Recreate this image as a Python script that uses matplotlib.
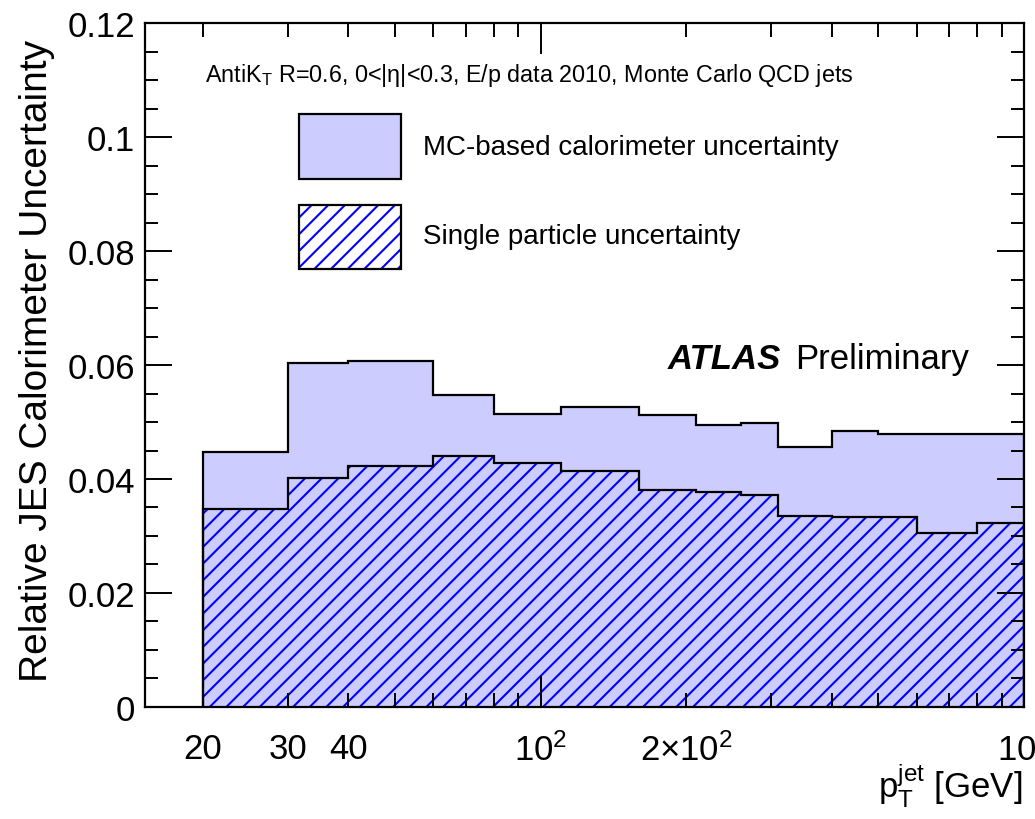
## Relative JES calorimeter uncertainty vs jet pT
## ATLAS preliminary style, ROOT look

import matplotlib
matplotlib.use('Agg')
import matplotlib.pyplot as plt
from matplotlib.patches import Rectangle
from matplotlib.ticker import FixedLocator, FixedFormatter, MultipleLocator, FuncFormatter

plt.rcParams['font.family'] = ['Liberation Sans', 'DejaVu Sans']
plt.rcParams['mathtext.fontset'] = 'custom'
plt.rcParams['mathtext.rm'] = 'Liberation Sans'
plt.rcParams['mathtext.it'] = 'Liberation Sans:italic'
plt.rcParams['mathtext.bf'] = 'Liberation Sans:bold'
plt.rcParams['hatch.linewidth'] = 1.5

###################
# data (bin edges in GeV)
pt_edges = [20, 30, 40, 60, 80, 110, 160, 210, 260, 310, 400, 500, 600, 800, 1000]
mc_calo = [0.0447, 0.0603, 0.0607, 0.0547, 0.0514, 0.0527, 0.0512, 0.0495,
           0.0498, 0.0457, 0.0485, 0.0479, 0.0479, 0.0479]
single_particle = [0.0347, 0.0402, 0.0423, 0.0440, 0.0428, 0.0414, 0.0380, 0.0378,
                   0.0372, 0.0335, 0.0333, 0.0334, 0.0305, 0.0323]

x_major = [100, 1000]
x_major_labels = [r'$10^2$', r'$10^3$']
x_minor = [20, 30, 40, 50, 60, 70, 80, 90, 200, 300, 400, 500, 600, 700, 800, 900]
x_minor_labels = ['20', '30', '40', '', '', '', '', '', r'$2{\times}10^2$', '', '', '', '', '', '', '']

label_mc = 'MC-based calorimeter uncertainty'
label_sp = 'Single particle uncertainty'

fill_col = '#ccccff'
hatch_col = '#0000ff'

###################
fig = plt.figure(figsize=(10.35, 8.2), dpi=100)
ax = fig.add_axes([0.1401, 0.1366, 0.8493, 0.8341])

# filled histograms first, outlines on top
ax.stairs(mc_calo, pt_edges, fill=True, facecolor=fill_col, edgecolor='none', baseline=0)
ax.stairs(single_particle, pt_edges, fill=True, facecolor='none', edgecolor=hatch_col,
          hatch='//', linewidth=0, baseline=0)
ax.stairs(mc_calo, pt_edges, color='black', linewidth=1.6, baseline=0)
ax.stairs(single_particle, pt_edges, color='black', linewidth=1.6, baseline=0)

ax.set_xscale('log')
ax.set_xlim(15.2, 1000)
ax.set_ylim(0, 0.12)

ax.xaxis.set_major_locator(FixedLocator(x_major))
ax.xaxis.set_major_formatter(FixedFormatter(x_major_labels))
ax.xaxis.set_minor_locator(FixedLocator(x_minor))
ax.xaxis.set_minor_formatter(FixedFormatter(x_minor_labels))
ax.yaxis.set_major_locator(MultipleLocator(0.02))
ax.yaxis.set_minor_locator(MultipleLocator(0.005))
ax.yaxis.set_major_formatter(FuncFormatter(lambda v, p: f'{v:g}'))

ax.tick_params(which='both', direction='in', top=True, right=True, width=1.4, colors='black')
ax.tick_params(axis='x', which='major', length=22)
ax.tick_params(axis='x', which='minor', length=10)
ax.tick_params(axis='y', which='major', length=19.5)
ax.tick_params(axis='y', which='minor', length=9.5)
ax.tick_params(axis='x', which='both', labelsize=25, pad=18)
ax.tick_params(axis='y', which='both', labelsize=25, pad=7)
for sp in ax.spines.values():
    sp.set_linewidth(1.6)

ax.set_ylabel('Relative JES Calorimeter Uncertainty', fontsize=28, loc='top')
ax.yaxis.set_label_coords(-0.1024, 0.977)
ax.set_xlabel(r'$\mathrm{p}_{\mathrm{T}}^{\mathrm{jet}}$ [GeV]', fontsize=25, loc='right')
ax.xaxis.set_label_coords(0.9977, -0.079)

ax.text(0.068, 0.925, r'AntiK$_{\mathrm{T}}$ R=0.6, 0<|η|<0.3, E/p data 2010, Monte Carlo QCD jets',
        transform=ax.transAxes, fontsize=16.8, va='center')

# legend boxes
ax.add_patch(Rectangle((0.1752, 0.7719), 0.116, 0.095, transform=ax.transAxes,
                       facecolor=fill_col, edgecolor='black', lw=1.6))
ax.add_patch(Rectangle((0.1752, 0.6404), 0.116, 0.0936, transform=ax.transAxes,
                       facecolor='white', edgecolor=hatch_col, hatch='//', lw=0))
ax.add_patch(Rectangle((0.1752, 0.6404), 0.116, 0.0936, transform=ax.transAxes,
                       facecolor='none', edgecolor='black', lw=1.6))
ax.text(0.316, 0.8085, label_mc, transform=ax.transAxes, fontsize=20, va='baseline')
ax.text(0.316, 0.678, label_sp, transform=ax.transAxes, fontsize=20, va='baseline')

ax.text(0.595, 0.495, 'ATLAS', transform=ax.transAxes, fontsize=25,
        fontweight='bold', fontstyle='italic', va='baseline')
ax.text(0.7395, 0.495, 'Preliminary', transform=ax.transAxes, fontsize=25, va='baseline')

fig.savefig('out.png', dpi=100)
